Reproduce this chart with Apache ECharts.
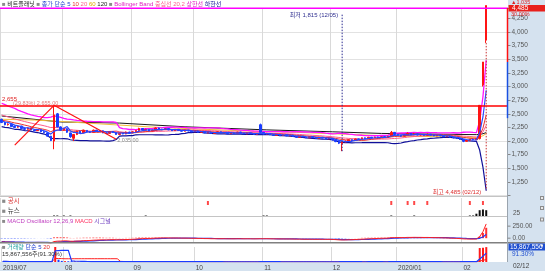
<!DOCTYPE html>
<html><head><meta charset="utf-8">
<script src="https://cdn.jsdelivr.net/npm/echarts@6/dist/echarts.min.js"></script>
<style>html,body{margin:0;padding:0;background:#fff;overflow:hidden}#c{width:545px;height:271px}</style>
</head><body><div id="c"></div>
<script>
// ---------------- DATA ----------------
const holidays = ['2019/08/15','2019/09/12','2019/09/13','2019/10/03','2019/10/09','2019/12/25','2019/12/31','2020/01/01','2020/01/24','2020/01/27'];
const monthLabels = ['2019/07','08','09','10','11','12','2020/01','02'];
const prevCloses = [2680,2650,2620,2600,2610,2570,2540,2520,2480,2460,2430,2410,2420,2390,2370,2380,2360,2370,2380];
const opens = [
 2400,2345,2300,2310,2270,2255,2275,2230,2215,2240,2205,2190,2210,2170,2150,2090,2000,2500,2260,
 2200,2225,2150,2050,2120,2180,2150,2195,2170,2160,2200,2175,2190,2150,2140,2175,2155,2120,2145,2130,2165,
 2150,2170,2195,2230,2200,2215,2185,2200,2240,2220,2210,2230,2205,2190,2215,2195,2180,2200,2185,
 2170,2185,2160,2175,2150,2165,2140,2155,2170,2150,2160,2135,2150,2140,2165,2145,2130,2150,2135,2120,2300,
 2160,2130,2140,2115,2105,2125,2100,2115,2095,2110,2085,2070,2090,2075,2060,2080,2065,2050,2070,2055,2040,
 2050,2020,1990,1950,1985,2000,2025,2010,2040,2030,2060,2045,2070,2060,2075,2065,2080,2070,2090,2160,
 2120,2105,2090,2110,2140,2115,2130,2110,2120,2105,2125,2110,2095,2110,2095,2080,2090,2070,2060,2045,
 2030,1995,2015,2035,2025,2045,3030,3850];
const closes = [
 2340,2300,2310,2265,2250,2275,2230,2215,2240,2205,2190,2210,2170,2155,2090,2010,2480,2260,2200,
 2230,2160,2080,2120,2180,2150,2195,2170,2160,2200,2175,2190,2150,2140,2175,2160,2120,2145,2130,2165,2150,
 2170,2195,2230,2200,2215,2185,2200,2240,2220,2210,2230,2205,2190,2215,2195,2180,2200,2185,2170,
 2185,2160,2175,2150,2165,2140,2155,2170,2150,2160,2135,2150,2140,2165,2145,2130,2150,2135,2120,2140,2160,
 2130,2140,2115,2105,2125,2100,2115,2095,2110,2085,2070,2090,2075,2060,2080,2065,2050,2070,2055,2040,2055,
 2020,1990,1960,1985,2000,2025,2010,2040,2030,2060,2045,2070,2055,2075,2065,2080,2070,2090,2160,2120,
 2105,2090,2110,2140,2115,2130,2110,2120,2105,2125,2110,2095,2110,2095,2080,2090,2070,2060,2045,2030,
 1995,2015,2035,2025,2045,2655,3450,4485];
const lows = [
 2330,2290,2285,2260,2240,2245,2225,2205,2210,2200,2180,2185,2165,2145,2085,2000,1850,2250,2190,
 2190,2150,2060,2000,2110,2140,2145,2160,2150,2155,2170,2170,2145,2130,2135,2150,2115,2110,2125,2125,2145,
 2145,2165,2190,2195,2195,2180,2180,2195,2215,2200,2205,2200,2185,2185,2190,2175,2175,2180,2165,
 2165,2155,2155,2145,2145,2135,2135,2150,2145,2145,2130,2130,2135,2135,2140,2125,2125,2130,2115,2115,2150,
 2120,2120,2110,2095,2100,2095,2095,2090,2090,2080,2060,2065,2070,2055,2055,2060,2045,2045,2050,2035,2035,
 2010,1980,1945,1815,1975,1995,2005,2005,2020,2025,2040,2040,2050,2055,2060,2060,2065,2065,2085,2110,
 2095,2080,2085,2105,2110,2110,2105,2100,2100,2100,2105,2090,2090,2090,2075,2075,2065,2050,2040,2020,
 1980,1990,2010,2020,2020,2030,3000,3800];
const highs = [
 2410,2355,2325,2315,2280,2285,2280,2240,2250,2245,2215,2220,2215,2180,2160,2095,2640,2515,2270,
 2245,2230,2155,2130,2190,2190,2205,2200,2180,2210,2205,2200,2195,2160,2185,2180,2160,2150,2150,2175,2170,
 2180,2200,2245,2235,2225,2220,2210,2250,2245,2225,2240,2235,2210,2220,2220,2200,2205,2205,2190,
 2190,2190,2180,2180,2175,2170,2160,2180,2175,2165,2165,2155,2155,2170,2170,2150,2155,2155,2140,2145,2320,
 2165,2150,2145,2120,2130,2130,2120,2120,2115,2115,2090,2095,2095,2080,2085,2085,2070,2075,2075,2060,2060,
 2055,2025,1995,1990,2010,2030,2030,2045,2045,2065,2065,2075,2075,2080,2080,2085,2085,2095,2185,2165,
 2125,2110,2115,2160,2145,2150,2135,2125,2125,2140,2130,2115,2115,2115,2100,2095,2095,2075,2065,2050,
 2035,2020,2040,2040,2050,2655,3450,4485];
// volume in thousand shares
const volumes = [
 620,540,480,510,450,420,470,390,410,380,360,400,350,380,520,780,57000,2500,1200,
 900,800,950,700,620,480,510,430,400,460,380,390,420,360,410,350,380,340,330,370,320,
 360,420,560,430,390,350,340,480,410,360,380,340,330,350,320,300,310,290,300,
 310,290,300,280,350,270,290,310,280,270,260,280,270,300,280,260,270,250,260,270,900,
 420,350,300,280,290,260,270,250,260,250,280,270,250,260,240,250,260,240,250,260,240,
 300,340,380,520,360,320,290,300,280,300,290,310,300,290,280,290,300,310,850,520,
 400,330,310,450,360,380,320,300,290,330,300,280,290,270,280,270,290,300,320,340,
 420,330,350,330,360,14900,15200,15867.556];
const ma60Points = [[0,2400],[10,2385],[18,2360],[30,2315],[45,2260],[60,2220],[75,2185],[90,2160],[105,2125],[120,2090],[135,2080],[145,2065],[146,2076],[147,2098],[148,2138]];
const ma120Points = [[0,2460],[18,2350],[36,2330],[56,2262],[81,2205],[101,2170],[116,2140],[135,2125],[145,2118],[146,2123],[147,2135],[148,2155]];
const trendLineA = [[4,1925],[16,2655]];
const trendLineB = [[16,2655],[35,2035]];
const lowMark = {day:104, price:1815, text:'최저 1,815 (12/05)'};
const highMark = {day:148, price:4485, low:3800, text:'최고 4,485 (02/12)'};
const disclosureDays = [63,119,124,126,130,143,147];
const newsDays   = [16,17,19,21,44,80,81,119,126,143,144,145,146,147,148];
const newsCounts = [2,2,1,2,1,2,1,2,2,2,3,8,18,20,18];
const macdTickValues = [250,0];
const macdTickLabels = ['250.00','0.00'];
const hLinePrice = 2655;

// ---------------- CATEGORIES ----------------
const categories = [];
(function(){
  const d = new Date(Date.UTC(2019,6,5)); const end = Date.UTC(2020,1,12);
  while (d.getTime() <= end) {
    const wd = d.getUTCDay();
    const s = d.getUTCFullYear()+'/'+String(d.getUTCMonth()+1).padStart(2,'0')+'/'+String(d.getUTCDate()).padStart(2,'0');
    if (wd>0 && wd<6 && holidays.indexOf(s)<0) categories.push(s);
    d.setUTCDate(d.getUTCDate()+1);
  }
})();
const N = categories.length;
for (let k=1;k<=6;k++) categories.push('blank'+k);
const monthStart = categories.map((c,i)=> i<N && (i===0 || c.slice(0,7)!==categories[i-1].slice(0,7)));
const monthLabelOf = {}; let mc=0; monthStart.forEach((m,i)=>{ if(m){ monthLabelOf[i]=monthLabels[mc++]; } });

// ---------------- INDICATORS ----------------
const allC = prevCloses.concat(closes); const P = prevCloses.length;
function sma(n){ return closes.map((_,i)=>{ const j=P+i; let s=0; for(let k=j-n+1;k<=j;k++) s+=allC[k]; return s/n; }); }
const ma5 = sma(5), ma10 = sma(10), ma20 = sma(20);
const bbU = [], bbL = [];
ma20.forEach((m,i)=>{ const j=P+i; let v=0; for(let k=j-19;k<=j;k++) v+=(allC[k]-m)*(allC[k]-m); const sd=Math.sqrt(v/20); bbU.push(m+2*sd); bbL.push(m-2*sd); });
function ema(arr,n){ const a=2/(n+1); const out=[arr[0]]; for(let i=1;i<arr.length;i++) out.push(out[i-1]+a*(arr[i]-out[i-1])); return out; }
const e12=ema(allC,12), e26=ema(allC,26);
const macdAll=e12.map((v,i)=>v-e26[i]); const sigAll=ema(macdAll,9);
const macd=macdAll.slice(P), signal=sigAll.slice(P), osc=macd.map((v,i)=>v-signal[i]);
function vma(n){ return volumes.map((_,i)=>{ const a=Math.max(0,i-n+1); let s=0; for(let k=a;k<=i;k++) s+=volumes[k]; return s/(i-a+1); }); }
const vma5=vma(5), vma20=vma(20);

// ---------------- CHART ----------------
const FONT = '"Liberation Sans","Noto Sans CJK KR",sans-serif';
const RED='#ff1414', BLUE='#1a3cff', PANEL='#d5e2ef';
const GRID_L=0, GRID_R=37.5;
const msFn = (i)=>!!monthStart[i];
function xAx(g, showLabel){
  return { type:'category', gridIndex:g, data:categories, boundaryGap:true,
    axisLine:{show:false}, axisTick:{show:false},
    axisLabel: showLabel ? { show:true, interval: msFn, align:'left', margin:2.5, fontSize:6.5, fontFamily:FONT, color:'#444',
      formatter:(v,i)=> monthLabelOf[i] || '' } : {show:false},
    splitLine:{show:true, interval: msFn, lineStyle:{color:'#d9d9d9', width:1}} };
}
function lineS(data, color, w, xi, extra){
  return Object.assign({type:'line', xAxisIndex:xi||0, yAxisIndex:xi||0, data, symbol:'none', showSymbol:false, smooth:false,
    lineStyle:{color, width:w}, itemStyle:{color}, silent:true, z:2}, extra||{});
}
const idx = closes.map((_,i)=>i);
const option = {
  animation:false, backgroundColor:'#fff',
  grid:[
    {left:GRID_L, right:GRID_R, top:8, height:187.6},
    {left:GRID_L, right:GRID_R, top:198, height:10},
    {left:GRID_L, right:GRID_R, top:206, height:10.5},
    {left:GRID_L, right:GRID_R, top:217, height:26},
    {left:GRID_L, right:GRID_R, top:247, height:15}
  ],
  xAxis:[xAx(0,false), xAx(1,false), xAx(2,false), xAx(3,false), xAx(4,true)],
  yAxis:[
    {type:'value', gridIndex:0, position:'right', min:1000, max:4440, interval:250,
      axisLine:{show:true, lineStyle:{color:'#9a9a9a'}}, axisTick:{show:true, length:3, lineStyle:{color:'#888'}},
      axisLabel:{margin:4, fontSize:6.5, fontFamily:FONT, color:'#555', formatter:(v)=> v<1250 ? '' : v.toLocaleString('en-US')},
      splitLine:{show:true, lineStyle:{color:['#e2e2e2','rgba(0,0,0,0)'], width:1}}},
    {type:'value', gridIndex:1, min:0, max:2, show:false},
    {type:'value', gridIndex:2, min:0, max:30, show:false},
    {type:'value', gridIndex:3, min:-100, max:440, show:false},
    {type:'value', gridIndex:4, min:0, max:16000, show:false}
  ],
  series:[
    lineS(ma120Points, '#1a1a1a', 1),
    lineS(ma60Points, '#f2bf3a', 1),
    lineS(idx.map(i=>[i,bbL[i]]), '#10109a', 1.2),
    lineS(idx.map(i=>[i,ma20[i]]), '#ff5a8c', 1),
    lineS(idx.map(i=>[i,ma10[i]]), '#e83030', 1),
    lineS(idx.map(i=>[i,bbU[i]]), '#ff10ff', 1.3),
    {type:'candlestick', xAxisIndex:0, yAxisIndex:0, barWidth:2, clip:true, z:3, silent:true,
      data: idx.map(i=>[opens[i], closes[i], lows[i], highs[i]]),
      itemStyle:{color:RED, color0:BLUE, borderColor:RED, borderColor0:BLUE, borderWidth:1},
      markLine:{silent:true, symbol:['none','none'], label:{show:false}, animation:false,
        data:[{yAxis:hLinePrice, lineStyle:{color:'#ff0000', width:1.5, type:'solid'}}]}},
    lineS(idx.map(i=>[i,ma5[i]]), '#2a48ff', 1.2, 0, {z:4}),
    lineS(trendLineA, '#ff1010', 1.2, 0, {z:5}),
    lineS(trendLineB, '#ff1010', 1.2, 0, {z:5}),
    lineS([[lowMark.day, lowMark.price],[lowMark.day, 4330]], '#2a2a90', 1, 0, {z:5, lineStyle:{color:'#2a2a90', width:1, type:[1.5,1.5]}}),
    lineS([[highMark.day, highMark.low],[highMark.day, 1100]], '#c83030', 1, 0, {z:5, lineStyle:{color:'#c83030', width:1, type:[1.5,1.5]}}),
    {type:'scatter', xAxisIndex:1, yAxisIndex:1, data: disclosureDays.map(d=>[d,1]), symbol:'rect', symbolSize:[2,4], itemStyle:{color:'#ff1a1a'}, silent:true},
    {type:'bar', xAxisIndex:2, yAxisIndex:2, data: newsDays.map((d,k)=>[d,newsCounts[k]]), barWidth:2, barMinHeight:1, itemStyle:{color:'#111'}, silent:true},
    {type:'bar', xAxisIndex:3, yAxisIndex:3, data: idx.map(i=>({value:[i,osc[i]], itemStyle:{color: osc[i]>=0 ? '#ff3030' : '#3050ff'}})), barWidth:2, silent:true},
    lineS(idx.map(i=>[i,signal[i]]), '#1a3cff', 1.2, 3),
    lineS(idx.map(i=>[i,macd[i]]), '#ff2020', 1, 3),
    {type:'bar', xAxisIndex:4, yAxisIndex:4, data: idx.map(i=>({value:[i,volumes[i]], itemStyle:{color: closes[i]>=opens[i] ? '#ff1a1a' : '#1a3cff'}})), barWidth:2, silent:true},
    lineS(idx.map(i=>[i,vma20[i]]), '#ff2020', 1, 4),
    lineS(idx.map(i=>[i,vma5[i]]), '#1a3cff', 1.2, 4)
  ]
};
const chart = echarts.init(document.getElementById('c'), null, {renderer:'canvas'});
chart.setOption(option);

// ---------------- OVERLAY TEXT / DECOR ----------------
const G = [];
function txt(x, y, text, color, opt){
  opt = opt || {};
  const st = {text, fill:color, fontSize:opt.size||6.5, fontFamily:FONT, align:opt.align||'left', textAlign:opt.align||'left', verticalAlign:'middle', textVerticalAlign:'middle'};
  if (opt.rich) st.rich = opt.rich;
  G.push({type:'text', x, y, z:60, silent:true, style:st});
}
function richOf(map, size){ const r={}; Object.keys(map).forEach(k=> r[k]={fill:map[k], fontSize:size, fontFamily:FONT}); return r; }
function line(x1,y1,x2,y2,color,w,z){ G.push({type:'line', z:z||50, silent:true, shape:{x1,y1,x2,y2}, style:{stroke:color, lineWidth:w||1}}); }
function rect(x,y,w,h,fill,z){ G.push({type:'rect', z:z||50, silent:true, shape:{x,y,width:w,height:h}, style:{fill}}); }
const yPix = (ai, v)=> chart.convertToPixel({yAxisIndex:ai}, v);
const px = (g, x, y)=> chart.convertToPixel({gridIndex:g}, [x,y]);

// backgrounds
rect(508, 0, 37, 271, PANEL, -20);
rect(0, 262, 545, 9, PANEL, -20);
// separators
line(0, 8.25, 507.5, 8.25, '#ff00ff', 1.5, 55);
line(0, 196.5, 507.5, 196.5, '#c4c4c4', 1);
line(0, 216.5, 507.5, 216.5, '#c4c4c4', 1);
line(0, 242.75, 545, 242.75, '#808080', 1.5);
line(507.5, 8, 507.5, 262, '#9aa4ae', 1);
const yTop = yPix(0, 4440), yPrev = yPix(0, 3450), yB = yPix(0, 2420);
line(507.5, yTop, 507.5, yPrev, '#ff1010', 1.5, 56);
line(507.5, yPrev, 507.5, yB, '#1a50e0', 1.5, 56);

// title line
txt(2, 4.3, '{g|■} {k|비트플래닛} {g|■} {b|종가 단순} {b|5} {r|10} {p|20} {y|60} {k|120} {g|■} {m|Bollinger Band} {p|중심선 20,2} {m|상한선} {n|하한선}', '#222',
  {size:6, rich: richOf({g:'#8a8a8a', k:'#222', b:'#2040d0', r:'#e83030', p:'#ff5a8c', y:'#e0a800', m:'#e020c0', n:'#10109a'}, 6)});
// pane titles
txt(2, 201.5, '{g|■} {r|공시}', '#222', {size:6.5, rich: richOf({g:'#8a8a8a', r:'#d83030'}, 6.5)});
txt(2, 211.5, '{g|■} {k|뉴스}', '#222', {size:6.5, rich: richOf({g:'#8a8a8a', k:'#333'}, 6.5)});
txt(2, 221.5, '{g|■} {m|MACD Oscillator 12,26,9} {r|MACD} {v|시그널}', '#222', {size:6, rich: richOf({g:'#8a8a8a', m:'#c040c0', r:'#ff3060', v:'#7040c0'}, 6)});
txt(2, 247.5, '{g|■} {t|거래량} {b|단순 5} {r|20}', '#222', {size:6, rich: richOf({g:'#8a8a8a', t:'#20a0a0', b:'#2040d0', r:'#e83030'}, 6)});
txt(2, 254.5, '15,867,556주(91.30%)', '#333', {size:6});

// annotations on price pane
txt(2, 99, '2,655', '#e02020', {size:6});
txt(13, 103, '(29.83%) 2,655.00', '#e07878', {size:5.5});
const pB = px(0, trendLineB[1][0], trendLineB[1][1]);
txt(pB[0]+1, pB[1]+1.5, '2,035.00', '#888', {size:5.5});
const pLow = px(0, lowMark.day, 4310);
txt(pLow[0]-4, pLow[1], lowMark.text, '#303090', {size:6, align:'right'});
const pHigh = px(0, highMark.day, 1067);
txt(pHigh[0]-5, pHigh[1], highMark.text, '#dd3030', {size:6, align:'right'});

// right panel labels
txt(511, 2.3, '▲1,035', '#e02020', {size:5.5});
rect(508.5, 5, 36.5, 6.5, '#e8201c', 58);
txt(512, 8.3, '4,485', '#ffffff', {size:6.5});
txt(511, 14.6, '30.00%', '#e02020', {size:5.5});
txt(513, 213, '25', '#555', {size:6.5});
macdTickValues.forEach((v,k)=>{ const y = yPix(3, v); line(507.5, y, 510.5, y, '#888', 1); txt(512.5, y, macdTickLabels[k], '#555', {size:6.5}); });
const yVol = yPix(4, volumes[N-1]);
rect(508.5, yVol-3.5, 36.5, 7, '#1f4fd0', 58);
txt(510, yVol, '15,867,556', '#ffffff', {size:6.5});
txt(512, yVol+7.5, '91.30%', '#2050d0', {size:6.5});
txt(513, 266.5, '02/12', '#444', {size:6.5});
// small buttons
[196, 206, 217.5, 243.5].forEach(y=>{ rect(540, y, 4, 4, '#8c8c8c', 57); rect(541, y+1, 2, 2, '#e8e8e8', 58); });

chart.setOption({graphic: G});
</script>
</body></html>
